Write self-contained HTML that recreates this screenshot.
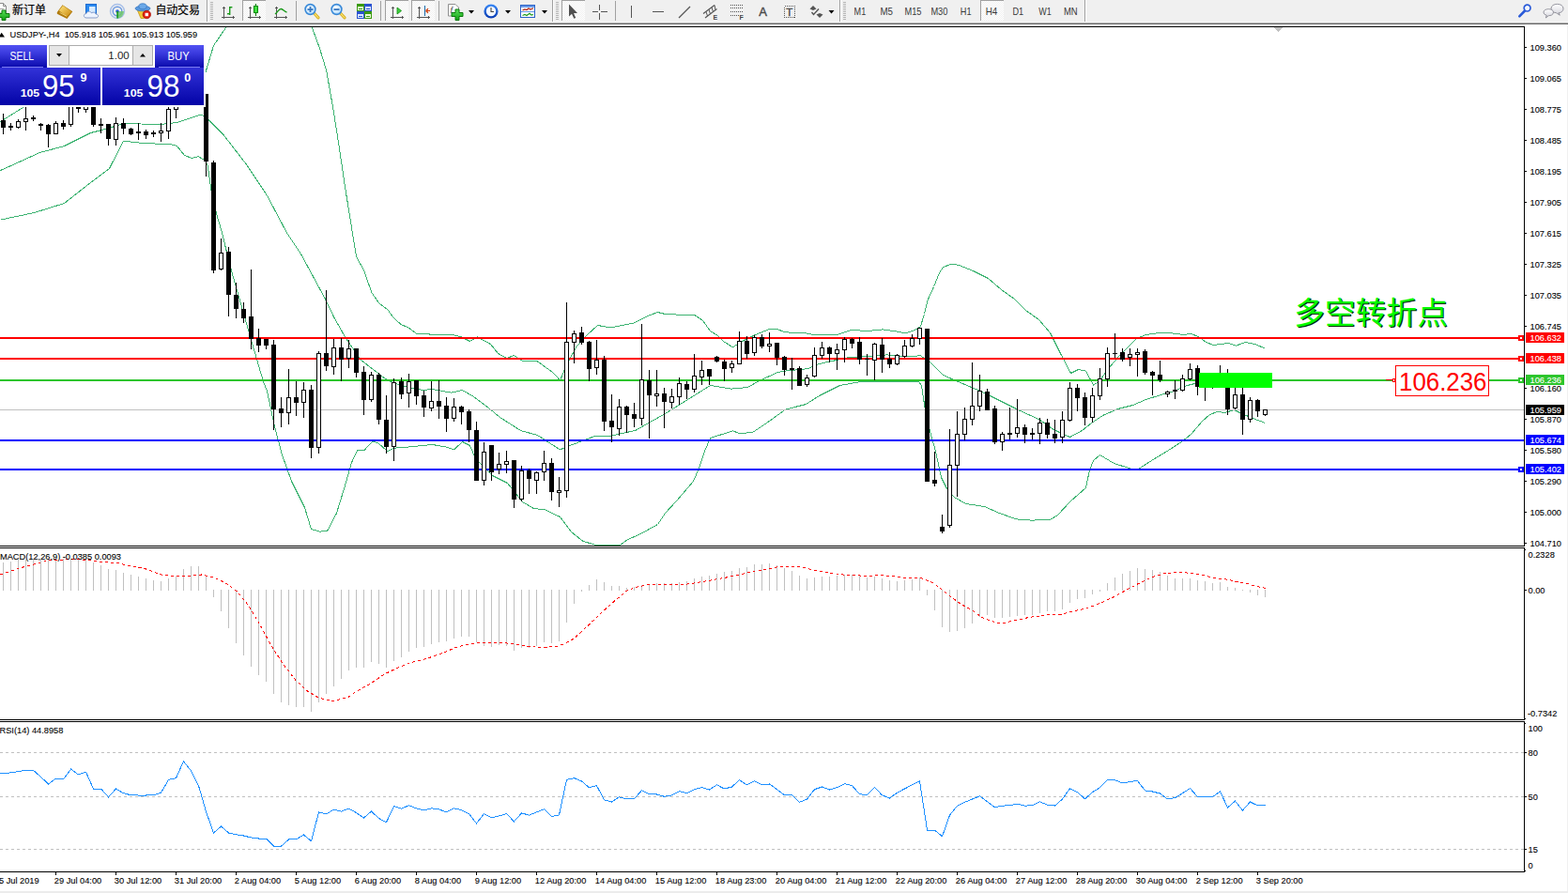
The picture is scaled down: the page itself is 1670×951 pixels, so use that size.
<!DOCTYPE html>
<html><head><meta charset="utf-8"><title>USDJPY H4</title>
<style>
html,body{margin:0;padding:0;background:#fff;}
body{width:1670px;height:951px;position:relative;overflow:hidden;font-family:"Liberation Sans",sans-serif;}
svg{position:absolute;left:0;top:0;}
text{font-family:"Liberation Sans",sans-serif;}
.t{font-size:9.65px;fill:#000;stroke:#000;stroke-width:0.1px;}
.tw{font-size:9.65px;fill:#fff;stroke:#fff;stroke-width:0.1px;}
.tf{font-size:10.2px;fill:#3a3a3a;}
</style></head><body>
<svg width="1670" height="951" viewBox="0 0 1670 951">
<defs>
<linearGradient id="gb" x1="0" y1="0" x2="0" y2="1"><stop offset="0" stop-color="#5252f2"/><stop offset="0.35" stop-color="#3a3ade"/><stop offset="1" stop-color="#0606a8"/></linearGradient>
<linearGradient id="gb2" x1="0" y1="0" x2="0" y2="1"><stop offset="0" stop-color="#3232d8"/><stop offset="1" stop-color="#0303a6"/></linearGradient>
<pattern id="sel" width="2" height="2" patternUnits="userSpaceOnUse"><rect width="2" height="2" fill="#f0f0f0"/><rect width="1" height="1" fill="#fff"/><rect x="1" y="1" width="1" height="1" fill="#fff"/></pattern>
</defs>

<g shape-rendering="crispEdges">
<rect x="0" y="0" width="1670" height="951" fill="#fff"/>
<rect x="0" y="0" width="1670" height="23" fill="#f0f0f0"/>
<rect x="0" y="23" width="1670" height="1" fill="#f6f6f6"/>
<rect x="0" y="24" width="1670" height="1" fill="#b0b0b0"/>
<rect x="0" y="25" width="1670" height="1" fill="#696969"/>
<rect x="1669" y="26" width="1" height="925" fill="#f0f0f0"/>
<rect x="0" y="949" width="1670" height="2" fill="#ececec"/>
<rect x="0" y="28" width="1624" height="1" fill="#000"/>
<rect x="0" y="581" width="1624" height="1" fill="#000"/>
<rect x="0" y="583" width="1624" height="1" fill="#000"/>
<rect x="0" y="766" width="1624" height="1" fill="#000"/>
<rect x="0" y="768" width="1624" height="1" fill="#000"/>
<rect x="0" y="928" width="1624" height="1" fill="#000"/>
<rect x="1623" y="28" width="1" height="554" fill="#000"/>
<rect x="1623" y="583" width="1" height="184" fill="#000"/>
<rect x="1623" y="768" width="1" height="161" fill="#000"/>
</g>
<clipPath id="cm"><rect x="0" y="29" width="1623" height="552"/></clipPath>
<g clip-path="url(#cm)" shape-rendering="crispEdges">
<polyline points="0.5,129.5 24.5,114.5 40.5,100.5" fill="none" stroke="#3cb371" stroke-width="1"/>
<polyline points="218.5,78.5 227.5,48.5 240.5,29.5" fill="none" stroke="#3cb371" stroke-width="1"/>
<polyline points="332.5,29.5 340.5,51.5 347.5,74.5 350.9,93.5 354.5,114.1 359,141.9 363.5,172 367.7,200.5 371.5,223.5 375.2,247 379.7,273.8 387.7,288.2 395.8,311.5 403.8,323 412.7,329.5 419,338.2 427.1,345.5 435.1,349 444.1,355.8 455.5,355.8 466.5,356.9 480.5,356.1 490.5,358.5 500.5,363.5 508.5,358.9 522.5,366.5 530.5,376.5 539.5,381.5 547.5,378.5 556.5,384.5 572.5,384.9 588.5,396.5 596.5,404.9 604.5,386.5 614.5,368.5 624.5,357.5 636.5,346.5 650.5,348.9 674.5,344.1 688.5,337.1 700.5,332.5 708.5,334.5 740.5,335.9 748.5,341.5 756.5,352.5 764.5,357.5 770.5,363.5 780.5,369.9 788.5,364.5 804.5,356.5 818.5,350.9 828.5,350.9 836.5,353.9 856.5,354.5 866.5,356.5 892.5,356.1 906.5,351.5 924.5,352.5 940.5,350.9 954.5,352.9 964.5,354.9 974.5,351.5 980.5,347.5 984.5,334.5 988.5,318.5 994.5,305.5 1000.5,290.5 1004.5,284.5 1012.5,281.5 1020.5,282.1 1036.5,288.5 1052.5,296.5 1066.5,308.5 1080.5,318.5 1092.5,330.5 1106.5,340.5 1118.5,354.5 1128.5,374.5 1140.5,397.5 1148.5,393.5 1156.5,395.1 1164.5,410.1 1170.5,406.5 1180.5,392.5 1192.5,378.5 1210.5,360.5 1220.5,356.5 1234.5,354.5 1248.5,354.9 1260.5,356.5 1268.5,355.5 1276.5,358.5 1284.5,364.5 1292.5,367.5 1308.5,365.5 1316.5,368.1 1326.5,364.5 1336.5,366.5 1347.5,371.1" fill="none" stroke="#3cb371" stroke-width="1"/>
<polyline points="0.5,181.5 42.5,162.5 68.5,155.5 96.5,141.5 108.5,138.5 132.5,131.5 150.5,132 170.5,132.5 188.5,130.5 212.5,122.5 218.5,123.5 222.5,128 238.5,144.2 250.2,159.3 261.8,174.3 273.5,191.7 284.9,209 296.5,231 305.8,248.5 320.5,270.5 346.5,318.5 355.5,337.5 368,359.7 384.5,383.5 410.5,403.5 418.5,407.5 434.5,412.5 450.5,415.5 460.5,414.5 480.5,418.1 492.5,415.5 504.5,422.5 520.5,434.5 532.5,444.5 554.5,458.5 572.5,463.5 596.5,478.9 604.5,475.5 634.5,464.1 650.5,464.1 676.5,458.5 708.5,440.5 732.5,425.5 756.5,410.5 778.5,414.1 796.5,412.5 808.5,405.5 828.5,396.5 840.5,394.5 854.5,393.5 860.5,392.5 872.5,387.5 904.5,380.5 924.5,379.5 944.5,377.9 960.5,379.5 980.5,378.9 986.5,382.5 992.5,387.5 1004.5,399.5 1020.5,406.5 1040.5,414.9 1056.5,422.5 1072.5,430.5 1086.5,437.5 1106.5,446.5 1120.5,456.5 1130.5,461.5 1139.5,465.5 1152.5,458.5 1162.5,450.5 1174.5,442.5 1190.5,435.5 1206.5,431.5 1220.5,425.5 1236.5,420.5 1250.5,416.5 1264.5,410.5 1276.5,407.5 1300.5,405.5 1347.5,408.5" fill="none" stroke="#3cb371" stroke-width="1"/>
<polyline points="0.5,234.1 36.5,226.5 68.5,216.5 96.5,194.5 116.5,179.5 131.5,150.1 148.5,152.1 184.5,154.1 188.5,155.5 196.5,165.5 204.5,168.5 211.5,166.5 215.5,169.5 218.5,170.8 221.3,176.5 224.8,202.1 230.5,227.5 236.3,247.2 240.5,264.5 246.5,288.5 266.5,358.5 280.5,406.5 284.5,416.5 292.5,454.5 300.5,484.5 310.5,512.5 324.5,540.5 331.5,563.5 340.5,566.1 348.5,565.5 358.5,546.5 366.5,520.5 374.5,492.5 380.5,479.9 387.5,479.9 396.5,470.5 402.5,471.5 412.5,480.5 420.5,477.1 436.5,475.9 460.5,473.5 474.5,475.9 483.5,478.9 492.5,470.5 500.5,474.5 506.5,488.5 512.5,494.5 524.5,506.5 540.5,514.5 556.5,534.5 568.5,541.5 580.5,542.9 596.5,550.5 608.5,566.5 620.5,576.1 634.5,580.5 660.5,580.5 668.5,574.5 680.5,569.5 700.5,558.5 708.5,546.5 720.5,533.5 738.5,512.5 744.5,498.5 750.5,480.5 756.5,466.5 780.5,458.9 788.5,461.9 802.5,459.9 816.5,450.5 836.5,436.1 854.5,431.5 858.5,430.5 872.5,421.5 894.5,410.5 916.5,406.5 960.5,406.1 978.5,406.5 981.5,410.5 985.5,437.5 990.5,459.5 996.5,480.5 1002.5,508.5 1008.5,520.5 1016.5,529.5 1028.5,536.5 1048.5,539.5 1064.5,546.5 1082.5,552.9 1098.5,554.1 1118.5,553.5 1126.5,548.5 1140.5,533.5 1156.5,519.5 1160.5,500.5 1164.5,490.5 1171.5,484.5 1186.5,493.5 1204.5,499.1 1212.5,499.5 1226.5,490.5 1244.5,479.5 1258.5,470.5 1268.5,462.5 1280.5,448.5 1288.5,441.5 1296.5,438.5 1304.5,439.5 1314.5,436.5 1322.5,440.5 1334.5,445.5 1347.5,450.5" fill="none" stroke="#3cb371" stroke-width="1"/>
<rect x="0" y="359" width="1623" height="2" fill="#ff0000"/>
<rect x="0" y="381" width="1623" height="2" fill="#ff0000"/>
<rect x="0" y="404" width="1623" height="2" fill="#2dc52d"/>
<rect x="0" y="468" width="1623" height="2" fill="#0000ff"/>
<rect x="0" y="499" width="1623" height="2" fill="#0000ff"/>
<rect x="0" y="436" width="1623" height="1" fill="#c0c0c0"/>
<rect x="3" y="121" width="1" height="22" fill="#000"/>
<rect x="1" y="128" width="5" height="8" fill="#000"/>
<rect x="11" y="131" width="1" height="8" fill="#000"/>
<rect x="9" y="134" width="5" height="2" fill="#000"/>
<rect x="19" y="127" width="1" height="10" fill="#000"/>
<rect x="17" y="129" width="5" height="7" fill="#000"/>
<rect x="18" y="130" width="3" height="5" fill="#fff"/>
<rect x="27" y="100" width="1" height="39" fill="#000"/>
<rect x="25" y="126" width="5" height="4" fill="#000"/>
<rect x="26" y="127" width="3" height="2" fill="#fff"/>
<rect x="35" y="123" width="1" height="6" fill="#000"/>
<rect x="33" y="125" width="5" height="2" fill="#000"/>
<rect x="43" y="131" width="1" height="8" fill="#000"/>
<rect x="41" y="132" width="5" height="2" fill="#000"/>
<rect x="51" y="132" width="1" height="25" fill="#000"/>
<rect x="49" y="133" width="5" height="10" fill="#000"/>
<rect x="59" y="129" width="1" height="14" fill="#000"/>
<rect x="57" y="131" width="5" height="12" fill="#000"/>
<rect x="58" y="132" width="3" height="10" fill="#fff"/>
<rect x="67" y="128" width="1" height="10" fill="#000"/>
<rect x="65" y="131" width="5" height="4" fill="#000"/>
<rect x="75" y="100" width="1" height="35" fill="#000"/>
<rect x="73" y="100" width="5" height="33" fill="#000"/>
<rect x="74" y="101" width="3" height="31" fill="#fff"/>
<rect x="83" y="100" width="1" height="20" fill="#000"/>
<rect x="81" y="100" width="5" height="16" fill="#000"/>
<rect x="91" y="100" width="1" height="20" fill="#000"/>
<rect x="89" y="100" width="5" height="17" fill="#000"/>
<rect x="90" y="101" width="3" height="15" fill="#fff"/>
<rect x="99" y="100" width="1" height="35" fill="#000"/>
<rect x="97" y="100" width="5" height="33" fill="#000"/>
<rect x="107" y="126" width="1" height="16" fill="#000"/>
<rect x="105" y="132" width="5" height="2" fill="#000"/>
<rect x="115" y="132" width="1" height="23" fill="#000"/>
<rect x="113" y="132" width="5" height="16" fill="#000"/>
<rect x="123" y="125" width="1" height="30" fill="#000"/>
<rect x="121" y="131" width="5" height="18" fill="#000"/>
<rect x="122" y="132" width="3" height="16" fill="#fff"/>
<rect x="131" y="126" width="1" height="17" fill="#000"/>
<rect x="129" y="131" width="5" height="6" fill="#000"/>
<rect x="139" y="136" width="1" height="8" fill="#000"/>
<rect x="137" y="137" width="5" height="6" fill="#000"/>
<rect x="147" y="131" width="1" height="18" fill="#000"/>
<rect x="145" y="140" width="5" height="2" fill="#000"/>
<rect x="155" y="138" width="1" height="10" fill="#000"/>
<rect x="153" y="140" width="5" height="4" fill="#000"/>
<rect x="163" y="139" width="1" height="7" fill="#000"/>
<rect x="161" y="141" width="5" height="2" fill="#000"/>
<rect x="171" y="131" width="1" height="20" fill="#000"/>
<rect x="169" y="139" width="5" height="3" fill="#000"/>
<rect x="170" y="140" width="3" height="1" fill="#fff"/>
<rect x="179" y="100" width="1" height="48" fill="#000"/>
<rect x="177" y="116" width="5" height="24" fill="#000"/>
<rect x="178" y="117" width="3" height="22" fill="#fff"/>
<rect x="187" y="100" width="1" height="26" fill="#000"/>
<rect x="185" y="100" width="5" height="17" fill="#000"/>
<rect x="186" y="101" width="3" height="15" fill="#fff"/>
<rect x="219" y="100" width="1" height="88" fill="#000"/>
<rect x="217" y="100" width="5" height="72" fill="#000"/>
<rect x="227" y="171" width="1" height="120" fill="#000"/>
<rect x="225" y="173" width="5" height="115" fill="#000"/>
<rect x="235" y="254" width="1" height="34" fill="#000"/>
<rect x="233" y="269" width="5" height="18" fill="#000"/>
<rect x="234" y="270" width="3" height="16" fill="#fff"/>
<rect x="243" y="263" width="1" height="74" fill="#000"/>
<rect x="241" y="268" width="5" height="46" fill="#000"/>
<rect x="251" y="301" width="1" height="38" fill="#000"/>
<rect x="249" y="314" width="5" height="15" fill="#000"/>
<rect x="259" y="322" width="1" height="22" fill="#000"/>
<rect x="257" y="329" width="5" height="10" fill="#000"/>
<rect x="267" y="287" width="1" height="85" fill="#000"/>
<rect x="265" y="337" width="5" height="24" fill="#000"/>
<rect x="275" y="350" width="1" height="25" fill="#000"/>
<rect x="273" y="360" width="5" height="8" fill="#000"/>
<rect x="283" y="361" width="1" height="11" fill="#000"/>
<rect x="281" y="361" width="5" height="7" fill="#000"/>
<rect x="291" y="362" width="1" height="96" fill="#000"/>
<rect x="289" y="367" width="5" height="69" fill="#000"/>
<rect x="299" y="423" width="1" height="32" fill="#000"/>
<rect x="297" y="435" width="5" height="5" fill="#000"/>
<rect x="307" y="393" width="1" height="59" fill="#000"/>
<rect x="305" y="423" width="5" height="17" fill="#000"/>
<rect x="306" y="424" width="3" height="15" fill="#fff"/>
<rect x="315" y="406" width="1" height="37" fill="#000"/>
<rect x="313" y="423" width="5" height="6" fill="#000"/>
<rect x="323" y="407" width="1" height="38" fill="#000"/>
<rect x="321" y="415" width="5" height="14" fill="#000"/>
<rect x="322" y="416" width="3" height="12" fill="#fff"/>
<rect x="331" y="410" width="1" height="78" fill="#000"/>
<rect x="329" y="415" width="5" height="62" fill="#000"/>
<rect x="339" y="374" width="1" height="109" fill="#000"/>
<rect x="337" y="376" width="5" height="101" fill="#000"/>
<rect x="338" y="377" width="3" height="99" fill="#fff"/>
<rect x="347" y="309" width="1" height="86" fill="#000"/>
<rect x="345" y="376" width="5" height="14" fill="#000"/>
<rect x="355" y="361" width="1" height="38" fill="#000"/>
<rect x="353" y="370" width="5" height="21" fill="#000"/>
<rect x="354" y="371" width="3" height="19" fill="#fff"/>
<rect x="363" y="360" width="1" height="46" fill="#000"/>
<rect x="361" y="370" width="5" height="13" fill="#000"/>
<rect x="371" y="362" width="1" height="30" fill="#000"/>
<rect x="369" y="371" width="5" height="11" fill="#000"/>
<rect x="370" y="372" width="3" height="9" fill="#fff"/>
<rect x="379" y="371" width="1" height="31" fill="#000"/>
<rect x="377" y="371" width="5" height="26" fill="#000"/>
<rect x="387" y="390" width="1" height="52" fill="#000"/>
<rect x="385" y="396" width="5" height="30" fill="#000"/>
<rect x="395" y="396" width="1" height="32" fill="#000"/>
<rect x="393" y="399" width="5" height="27" fill="#000"/>
<rect x="394" y="400" width="3" height="25" fill="#fff"/>
<rect x="403" y="397" width="1" height="55" fill="#000"/>
<rect x="401" y="399" width="5" height="48" fill="#000"/>
<rect x="411" y="421" width="1" height="62" fill="#000"/>
<rect x="409" y="447" width="5" height="29" fill="#000"/>
<rect x="419" y="403" width="1" height="88" fill="#000"/>
<rect x="417" y="407" width="5" height="69" fill="#000"/>
<rect x="418" y="408" width="3" height="67" fill="#fff"/>
<rect x="427" y="402" width="1" height="23" fill="#000"/>
<rect x="425" y="406" width="5" height="14" fill="#000"/>
<rect x="435" y="398" width="1" height="36" fill="#000"/>
<rect x="433" y="406" width="5" height="13" fill="#000"/>
<rect x="434" y="407" width="3" height="11" fill="#fff"/>
<rect x="443" y="405" width="1" height="26" fill="#000"/>
<rect x="441" y="405" width="5" height="17" fill="#000"/>
<rect x="451" y="416" width="1" height="28" fill="#000"/>
<rect x="449" y="421" width="5" height="13" fill="#000"/>
<rect x="459" y="406" width="1" height="32" fill="#000"/>
<rect x="457" y="427" width="5" height="8" fill="#000"/>
<rect x="458" y="428" width="3" height="6" fill="#fff"/>
<rect x="467" y="405" width="1" height="41" fill="#000"/>
<rect x="465" y="427" width="5" height="6" fill="#000"/>
<rect x="475" y="423" width="1" height="37" fill="#000"/>
<rect x="473" y="432" width="5" height="14" fill="#000"/>
<rect x="483" y="424" width="1" height="25" fill="#000"/>
<rect x="481" y="433" width="5" height="13" fill="#000"/>
<rect x="482" y="434" width="3" height="11" fill="#fff"/>
<rect x="491" y="432" width="1" height="20" fill="#000"/>
<rect x="489" y="433" width="5" height="6" fill="#000"/>
<rect x="499" y="436" width="1" height="35" fill="#000"/>
<rect x="497" y="438" width="5" height="20" fill="#000"/>
<rect x="507" y="449" width="1" height="63" fill="#000"/>
<rect x="505" y="458" width="5" height="54" fill="#000"/>
<rect x="515" y="471" width="1" height="46" fill="#000"/>
<rect x="513" y="481" width="5" height="31" fill="#000"/>
<rect x="514" y="482" width="3" height="29" fill="#fff"/>
<rect x="523" y="474" width="1" height="38" fill="#000"/>
<rect x="521" y="474" width="5" height="29" fill="#000"/>
<rect x="531" y="482" width="1" height="23" fill="#000"/>
<rect x="529" y="494" width="5" height="6" fill="#000"/>
<rect x="530" y="495" width="3" height="4" fill="#fff"/>
<rect x="539" y="480" width="1" height="24" fill="#000"/>
<rect x="537" y="491" width="5" height="4" fill="#000"/>
<rect x="538" y="492" width="3" height="2" fill="#fff"/>
<rect x="547" y="490" width="1" height="51" fill="#000"/>
<rect x="545" y="490" width="5" height="42" fill="#000"/>
<rect x="555" y="496" width="1" height="38" fill="#000"/>
<rect x="553" y="501" width="5" height="31" fill="#000"/>
<rect x="554" y="502" width="3" height="29" fill="#fff"/>
<rect x="563" y="499" width="1" height="27" fill="#000"/>
<rect x="561" y="501" width="5" height="9" fill="#000"/>
<rect x="571" y="502" width="1" height="24" fill="#000"/>
<rect x="569" y="503" width="5" height="9" fill="#000"/>
<rect x="570" y="504" width="3" height="7" fill="#fff"/>
<rect x="579" y="480" width="1" height="32" fill="#000"/>
<rect x="577" y="493" width="5" height="10" fill="#000"/>
<rect x="578" y="494" width="3" height="8" fill="#fff"/>
<rect x="587" y="488" width="1" height="45" fill="#000"/>
<rect x="585" y="493" width="5" height="31" fill="#000"/>
<rect x="595" y="508" width="1" height="32" fill="#000"/>
<rect x="593" y="522" width="5" height="3" fill="#000"/>
<rect x="594" y="523" width="3" height="1" fill="#fff"/>
<rect x="603" y="322" width="1" height="208" fill="#000"/>
<rect x="601" y="364" width="5" height="159" fill="#000"/>
<rect x="602" y="365" width="3" height="157" fill="#fff"/>
<rect x="611" y="352" width="1" height="35" fill="#000"/>
<rect x="609" y="355" width="5" height="10" fill="#000"/>
<rect x="610" y="356" width="3" height="8" fill="#fff"/>
<rect x="619" y="348" width="1" height="19" fill="#000"/>
<rect x="617" y="354" width="5" height="11" fill="#000"/>
<rect x="627" y="363" width="1" height="43" fill="#000"/>
<rect x="625" y="364" width="5" height="29" fill="#000"/>
<rect x="635" y="362" width="1" height="37" fill="#000"/>
<rect x="633" y="383" width="5" height="9" fill="#000"/>
<rect x="634" y="384" width="3" height="7" fill="#fff"/>
<rect x="643" y="379" width="1" height="80" fill="#000"/>
<rect x="641" y="383" width="5" height="66" fill="#000"/>
<rect x="651" y="420" width="1" height="51" fill="#000"/>
<rect x="649" y="448" width="5" height="7" fill="#000"/>
<rect x="659" y="425" width="1" height="39" fill="#000"/>
<rect x="657" y="433" width="5" height="24" fill="#000"/>
<rect x="658" y="434" width="3" height="22" fill="#fff"/>
<rect x="667" y="432" width="1" height="29" fill="#000"/>
<rect x="665" y="433" width="5" height="9" fill="#000"/>
<rect x="675" y="429" width="1" height="26" fill="#000"/>
<rect x="673" y="441" width="5" height="5" fill="#000"/>
<rect x="683" y="345" width="1" height="108" fill="#000"/>
<rect x="681" y="404" width="5" height="42" fill="#000"/>
<rect x="682" y="405" width="3" height="40" fill="#fff"/>
<rect x="691" y="394" width="1" height="73" fill="#000"/>
<rect x="689" y="405" width="5" height="16" fill="#000"/>
<rect x="699" y="394" width="1" height="39" fill="#000"/>
<rect x="697" y="419" width="5" height="3" fill="#000"/>
<rect x="698" y="420" width="3" height="1" fill="#fff"/>
<rect x="707" y="413" width="1" height="43" fill="#000"/>
<rect x="705" y="419" width="5" height="9" fill="#000"/>
<rect x="715" y="414" width="1" height="21" fill="#000"/>
<rect x="713" y="422" width="5" height="7" fill="#000"/>
<rect x="714" y="423" width="3" height="5" fill="#fff"/>
<rect x="723" y="402" width="1" height="29" fill="#000"/>
<rect x="721" y="408" width="5" height="15" fill="#000"/>
<rect x="722" y="409" width="3" height="13" fill="#fff"/>
<rect x="731" y="406" width="1" height="19" fill="#000"/>
<rect x="729" y="409" width="5" height="6" fill="#000"/>
<rect x="739" y="377" width="1" height="41" fill="#000"/>
<rect x="737" y="400" width="5" height="15" fill="#000"/>
<rect x="738" y="401" width="3" height="13" fill="#fff"/>
<rect x="747" y="384" width="1" height="26" fill="#000"/>
<rect x="745" y="394" width="5" height="8" fill="#000"/>
<rect x="746" y="395" width="3" height="6" fill="#fff"/>
<rect x="755" y="393" width="1" height="17" fill="#000"/>
<rect x="753" y="393" width="5" height="8" fill="#000"/>
<rect x="763" y="379" width="1" height="7" fill="#000"/>
<rect x="761" y="380" width="5" height="5" fill="#000"/>
<rect x="771" y="383" width="1" height="23" fill="#000"/>
<rect x="769" y="385" width="5" height="8" fill="#000"/>
<rect x="779" y="384" width="1" height="13" fill="#000"/>
<rect x="777" y="387" width="5" height="5" fill="#000"/>
<rect x="778" y="388" width="3" height="3" fill="#fff"/>
<rect x="787" y="353" width="1" height="35" fill="#000"/>
<rect x="785" y="363" width="5" height="25" fill="#000"/>
<rect x="786" y="364" width="3" height="23" fill="#fff"/>
<rect x="795" y="358" width="1" height="24" fill="#000"/>
<rect x="793" y="363" width="5" height="14" fill="#000"/>
<rect x="803" y="357" width="1" height="22" fill="#000"/>
<rect x="801" y="359" width="5" height="17" fill="#000"/>
<rect x="802" y="360" width="3" height="15" fill="#fff"/>
<rect x="811" y="356" width="1" height="15" fill="#000"/>
<rect x="809" y="359" width="5" height="10" fill="#000"/>
<rect x="819" y="354" width="1" height="21" fill="#000"/>
<rect x="817" y="366" width="5" height="3" fill="#000"/>
<rect x="818" y="367" width="3" height="1" fill="#fff"/>
<rect x="827" y="365" width="1" height="24" fill="#000"/>
<rect x="825" y="365" width="5" height="16" fill="#000"/>
<rect x="835" y="379" width="1" height="21" fill="#000"/>
<rect x="833" y="380" width="5" height="14" fill="#000"/>
<rect x="843" y="381" width="1" height="34" fill="#000"/>
<rect x="841" y="392" width="5" height="2" fill="#000"/>
<rect x="851" y="390" width="1" height="21" fill="#000"/>
<rect x="849" y="392" width="5" height="19" fill="#000"/>
<rect x="859" y="399" width="1" height="13" fill="#000"/>
<rect x="857" y="402" width="5" height="8" fill="#000"/>
<rect x="858" y="403" width="3" height="6" fill="#fff"/>
<rect x="867" y="370" width="1" height="32" fill="#000"/>
<rect x="865" y="378" width="5" height="23" fill="#000"/>
<rect x="866" y="379" width="3" height="21" fill="#fff"/>
<rect x="875" y="364" width="1" height="18" fill="#000"/>
<rect x="873" y="370" width="5" height="9" fill="#000"/>
<rect x="874" y="371" width="3" height="7" fill="#fff"/>
<rect x="883" y="369" width="1" height="17" fill="#000"/>
<rect x="881" y="370" width="5" height="7" fill="#000"/>
<rect x="891" y="366" width="1" height="28" fill="#000"/>
<rect x="889" y="372" width="5" height="5" fill="#000"/>
<rect x="890" y="373" width="3" height="3" fill="#fff"/>
<rect x="899" y="359" width="1" height="27" fill="#000"/>
<rect x="897" y="361" width="5" height="12" fill="#000"/>
<rect x="898" y="362" width="3" height="10" fill="#fff"/>
<rect x="907" y="360" width="1" height="11" fill="#000"/>
<rect x="905" y="361" width="5" height="5" fill="#000"/>
<rect x="915" y="359" width="1" height="29" fill="#000"/>
<rect x="913" y="364" width="5" height="19" fill="#000"/>
<rect x="923" y="377" width="1" height="23" fill="#000"/>
<rect x="921" y="382" width="5" height="1" fill="#000"/>
<rect x="931" y="365" width="1" height="40" fill="#000"/>
<rect x="929" y="366" width="5" height="18" fill="#000"/>
<rect x="930" y="367" width="3" height="16" fill="#fff"/>
<rect x="939" y="360" width="1" height="37" fill="#000"/>
<rect x="937" y="367" width="5" height="16" fill="#000"/>
<rect x="947" y="375" width="1" height="17" fill="#000"/>
<rect x="945" y="382" width="5" height="6" fill="#000"/>
<rect x="955" y="377" width="1" height="12" fill="#000"/>
<rect x="953" y="378" width="5" height="10" fill="#000"/>
<rect x="954" y="379" width="3" height="8" fill="#fff"/>
<rect x="963" y="362" width="1" height="19" fill="#000"/>
<rect x="961" y="368" width="5" height="12" fill="#000"/>
<rect x="962" y="369" width="3" height="10" fill="#fff"/>
<rect x="971" y="356" width="1" height="14" fill="#000"/>
<rect x="969" y="360" width="5" height="9" fill="#000"/>
<rect x="970" y="361" width="3" height="7" fill="#fff"/>
<rect x="979" y="349" width="1" height="18" fill="#000"/>
<rect x="977" y="349" width="5" height="12" fill="#000"/>
<rect x="978" y="350" width="3" height="10" fill="#fff"/>
<rect x="987" y="350" width="1" height="163" fill="#000"/>
<rect x="985" y="350" width="5" height="163" fill="#000"/>
<rect x="995" y="481" width="1" height="37" fill="#000"/>
<rect x="993" y="511" width="5" height="4" fill="#000"/>
<rect x="1003" y="548" width="1" height="20" fill="#000"/>
<rect x="1001" y="561" width="5" height="5" fill="#000"/>
<rect x="1011" y="457" width="1" height="105" fill="#000"/>
<rect x="1009" y="495" width="5" height="65" fill="#000"/>
<rect x="1010" y="496" width="3" height="63" fill="#fff"/>
<rect x="1019" y="438" width="1" height="91" fill="#000"/>
<rect x="1017" y="462" width="5" height="34" fill="#000"/>
<rect x="1018" y="463" width="3" height="32" fill="#fff"/>
<rect x="1027" y="434" width="1" height="35" fill="#000"/>
<rect x="1025" y="446" width="5" height="17" fill="#000"/>
<rect x="1026" y="447" width="3" height="15" fill="#fff"/>
<rect x="1035" y="386" width="1" height="67" fill="#000"/>
<rect x="1033" y="432" width="5" height="15" fill="#000"/>
<rect x="1034" y="433" width="3" height="13" fill="#fff"/>
<rect x="1043" y="399" width="1" height="39" fill="#000"/>
<rect x="1041" y="416" width="5" height="17" fill="#000"/>
<rect x="1042" y="417" width="3" height="15" fill="#fff"/>
<rect x="1051" y="414" width="1" height="23" fill="#000"/>
<rect x="1049" y="417" width="5" height="20" fill="#000"/>
<rect x="1059" y="432" width="1" height="41" fill="#000"/>
<rect x="1057" y="435" width="5" height="36" fill="#000"/>
<rect x="1067" y="460" width="1" height="20" fill="#000"/>
<rect x="1065" y="462" width="5" height="9" fill="#000"/>
<rect x="1066" y="463" width="3" height="7" fill="#fff"/>
<rect x="1075" y="434" width="1" height="34" fill="#000"/>
<rect x="1073" y="461" width="5" height="2" fill="#000"/>
<rect x="1083" y="425" width="1" height="41" fill="#000"/>
<rect x="1081" y="455" width="5" height="7" fill="#000"/>
<rect x="1082" y="456" width="3" height="5" fill="#fff"/>
<rect x="1091" y="452" width="1" height="20" fill="#000"/>
<rect x="1089" y="455" width="5" height="8" fill="#000"/>
<rect x="1099" y="456" width="1" height="12" fill="#000"/>
<rect x="1097" y="461" width="5" height="2" fill="#000"/>
<rect x="1107" y="445" width="1" height="28" fill="#000"/>
<rect x="1105" y="450" width="5" height="12" fill="#000"/>
<rect x="1106" y="451" width="3" height="10" fill="#fff"/>
<rect x="1115" y="446" width="1" height="21" fill="#000"/>
<rect x="1113" y="450" width="5" height="13" fill="#000"/>
<rect x="1123" y="447" width="1" height="25" fill="#000"/>
<rect x="1121" y="462" width="5" height="5" fill="#000"/>
<rect x="1131" y="438" width="1" height="34" fill="#000"/>
<rect x="1129" y="447" width="5" height="19" fill="#000"/>
<rect x="1130" y="448" width="3" height="17" fill="#fff"/>
<rect x="1139" y="407" width="1" height="42" fill="#000"/>
<rect x="1137" y="413" width="5" height="35" fill="#000"/>
<rect x="1138" y="414" width="3" height="33" fill="#fff"/>
<rect x="1147" y="409" width="1" height="29" fill="#000"/>
<rect x="1145" y="413" width="5" height="11" fill="#000"/>
<rect x="1155" y="418" width="1" height="35" fill="#000"/>
<rect x="1153" y="423" width="5" height="22" fill="#000"/>
<rect x="1163" y="413" width="1" height="37" fill="#000"/>
<rect x="1161" y="421" width="5" height="24" fill="#000"/>
<rect x="1162" y="422" width="3" height="22" fill="#fff"/>
<rect x="1171" y="392" width="1" height="34" fill="#000"/>
<rect x="1169" y="403" width="5" height="19" fill="#000"/>
<rect x="1170" y="404" width="3" height="17" fill="#fff"/>
<rect x="1179" y="370" width="1" height="42" fill="#000"/>
<rect x="1177" y="376" width="5" height="28" fill="#000"/>
<rect x="1178" y="377" width="3" height="26" fill="#fff"/>
<rect x="1187" y="355" width="1" height="26" fill="#000"/>
<rect x="1185" y="376" width="5" height="1" fill="#000"/>
<rect x="1195" y="371" width="1" height="14" fill="#000"/>
<rect x="1193" y="375" width="5" height="8" fill="#000"/>
<rect x="1203" y="371" width="1" height="19" fill="#000"/>
<rect x="1201" y="377" width="5" height="4" fill="#000"/>
<rect x="1202" y="378" width="3" height="2" fill="#fff"/>
<rect x="1211" y="371" width="1" height="30" fill="#000"/>
<rect x="1209" y="375" width="5" height="3" fill="#000"/>
<rect x="1210" y="376" width="3" height="1" fill="#fff"/>
<rect x="1219" y="372" width="1" height="27" fill="#000"/>
<rect x="1217" y="374" width="5" height="23" fill="#000"/>
<rect x="1227" y="395" width="1" height="26" fill="#000"/>
<rect x="1225" y="396" width="5" height="4" fill="#000"/>
<rect x="1235" y="384" width="1" height="23" fill="#000"/>
<rect x="1233" y="399" width="5" height="6" fill="#000"/>
<rect x="1243" y="416" width="1" height="7" fill="#000"/>
<rect x="1241" y="417" width="5" height="3" fill="#000"/>
<rect x="1242" y="418" width="3" height="1" fill="#fff"/>
<rect x="1251" y="405" width="1" height="20" fill="#000"/>
<rect x="1249" y="415" width="5" height="2" fill="#000"/>
<rect x="1259" y="399" width="1" height="18" fill="#000"/>
<rect x="1257" y="403" width="5" height="13" fill="#000"/>
<rect x="1258" y="404" width="3" height="11" fill="#fff"/>
<rect x="1267" y="387" width="1" height="18" fill="#000"/>
<rect x="1265" y="393" width="5" height="11" fill="#000"/>
<rect x="1266" y="394" width="3" height="9" fill="#fff"/>
<rect x="1275" y="389" width="1" height="32" fill="#000"/>
<rect x="1273" y="392" width="5" height="20" fill="#000"/>
<rect x="1283" y="398" width="1" height="29" fill="#000"/>
<rect x="1281" y="400" width="5" height="11" fill="#000"/>
<rect x="1291" y="398" width="1" height="16" fill="#000"/>
<rect x="1289" y="400" width="5" height="11" fill="#000"/>
<rect x="1299" y="389" width="1" height="23" fill="#000"/>
<rect x="1297" y="400" width="5" height="11" fill="#000"/>
<rect x="1298" y="401" width="3" height="9" fill="#fff"/>
<rect x="1307" y="393" width="1" height="49" fill="#000"/>
<rect x="1305" y="400" width="5" height="36" fill="#000"/>
<rect x="1315" y="400" width="1" height="36" fill="#000"/>
<rect x="1313" y="420" width="5" height="15" fill="#000"/>
<rect x="1314" y="421" width="3" height="13" fill="#fff"/>
<rect x="1323" y="400" width="1" height="63" fill="#000"/>
<rect x="1321" y="420" width="5" height="27" fill="#000"/>
<rect x="1331" y="423" width="1" height="27" fill="#000"/>
<rect x="1329" y="426" width="5" height="21" fill="#000"/>
<rect x="1330" y="427" width="3" height="19" fill="#fff"/>
<rect x="1339" y="425" width="1" height="19" fill="#000"/>
<rect x="1337" y="426" width="5" height="12" fill="#000"/>
<rect x="1347" y="436" width="1" height="7" fill="#000"/>
<rect x="1345" y="436" width="5" height="6" fill="#000"/>
<rect x="1346" y="437" width="3" height="4" fill="#fff"/>
<rect x="1357" y="29" width="9" height="1" fill="#c0c0c0"/>
<rect x="1358" y="30" width="7" height="1" fill="#c0c0c0"/>
<rect x="1359" y="31" width="5" height="1" fill="#c0c0c0"/>
<rect x="1360" y="32" width="3" height="1" fill="#c0c0c0"/>
<rect x="1361" y="33" width="1" height="1" fill="#c0c0c0"/>
<rect x="1277" y="397" width="78" height="16" fill="#00ff00"/>
</g>
<g shape-rendering="crispEdges">
<rect x="1617" y="357" width="6" height="6" fill="#ff0000"/><rect x="1619" y="359" width="2" height="2" fill="#fff"/>
<rect x="1617" y="379" width="6" height="6" fill="#ff0000"/><rect x="1619" y="381" width="2" height="2" fill="#fff"/>
<rect x="1617" y="402" width="6" height="6" fill="#2dc52d"/><rect x="1619" y="404" width="2" height="2" fill="#fff"/>
<rect x="1617" y="497" width="6" height="6" fill="#0000ff"/><rect x="1619" y="499" width="2" height="2" fill="#fff"/>
<rect x="1625" y="354" width="41" height="11" fill="#ff0000"/>
<rect x="1625" y="376" width="41" height="11" fill="#ff0000"/>
<rect x="1625" y="399" width="41" height="11" fill="#2dc52d"/>
<rect x="1625" y="431" width="41" height="11" fill="#000000"/>
<rect x="1625" y="463" width="41" height="11" fill="#0000ff"/>
<rect x="1625" y="494" width="41" height="11" fill="#0000ff"/>
</g>
<text class="tw" transform="translate(1629.5,363.2) scale(0.96,1)">106.632</text>
<text class="tw" transform="translate(1629.5,385.2) scale(0.96,1)">106.438</text>
<text class="tw" transform="translate(1629.5,408.2) scale(0.96,1)">106.236</text>
<text class="tw" transform="translate(1629.5,440.2) scale(0.96,1)">105.959</text>
<text class="tw" transform="translate(1629.5,472.2) scale(0.96,1)">105.674</text>
<text class="tw" transform="translate(1629.5,503.2) scale(0.96,1)">105.402</text>
<g shape-rendering="crispEdges">
<rect x="1624" y="50" width="2" height="1" fill="#000"/>
<rect x="1624" y="83" width="2" height="1" fill="#000"/>
<rect x="1624" y="116" width="2" height="1" fill="#000"/>
<rect x="1624" y="149" width="2" height="1" fill="#000"/>
<rect x="1624" y="182" width="2" height="1" fill="#000"/>
<rect x="1624" y="215" width="2" height="1" fill="#000"/>
<rect x="1624" y="248" width="2" height="1" fill="#000"/>
<rect x="1624" y="281" width="2" height="1" fill="#000"/>
<rect x="1624" y="314" width="2" height="1" fill="#000"/>
<rect x="1624" y="347" width="2" height="1" fill="#000"/>
<rect x="1624" y="413" width="2" height="1" fill="#000"/>
<rect x="1624" y="446" width="2" height="1" fill="#000"/>
<rect x="1624" y="479" width="2" height="1" fill="#000"/>
<rect x="1624" y="512" width="2" height="1" fill="#000"/>
<rect x="1624" y="545" width="2" height="1" fill="#000"/>
<rect x="1624" y="578" width="2" height="1" fill="#000"/>
</g>
<text class="t" transform="translate(1629.5,54.1) scale(0.96,1)">109.360</text>
<text class="t" transform="translate(1629.5,87.2) scale(0.96,1)">109.065</text>
<text class="t" transform="translate(1629.5,120) scale(0.96,1)">108.775</text>
<text class="t" transform="translate(1629.5,152.8) scale(0.96,1)">108.485</text>
<text class="t" transform="translate(1629.5,186) scale(0.96,1)">108.195</text>
<text class="t" transform="translate(1629.5,219.1) scale(0.96,1)">107.905</text>
<text class="t" transform="translate(1629.5,251.9) scale(0.96,1)">107.615</text>
<text class="t" transform="translate(1629.5,285) scale(0.96,1)">107.325</text>
<text class="t" transform="translate(1629.5,317.8) scale(0.96,1)">107.035</text>
<text class="t" transform="translate(1629.5,351) scale(0.96,1)">106.745</text>
<text class="t" transform="translate(1629.5,417.4) scale(0.96,1)">106.160</text>
<text class="t" transform="translate(1629.5,450.2) scale(0.96,1)">105.870</text>
<text class="t" transform="translate(1629.5,483.1) scale(0.96,1)">105.580</text>
<text class="t" transform="translate(1629.5,515.9) scale(0.96,1)">105.290</text>
<text class="t" transform="translate(1629.5,549) scale(0.96,1)">105.000</text>
<text class="t" transform="translate(1629.5,581.9) scale(0.96,1)">104.710</text>
<g shape-rendering="crispEdges">
<rect x="1476" y="404" width="8" height="1" fill="#ff0000"/>
<rect x="1483" y="403" width="3" height="4" fill="#ff0000"/><rect x="1484" y="404" width="1" height="2" fill="#fff"/>
<rect x="1486.5" y="389.5" width="99" height="32" fill="#fff" stroke="#ff0000" stroke-width="1"/>
</g>
<text x="1490" y="415.7" font-size="27.8" fill="#ff0000" textLength="93.5" lengthAdjust="spacingAndGlyphs">106.236</text>
<text x="1379.4" y="346.4" font-size="32.5" fill="#0a2a0a" letter-spacing="0.3" style="font-family:'Liberation Sans','Noto Sans CJK SC',sans-serif;">多空转折点</text>
<text x="1378.2" y="345.2" font-size="32.5" fill="#00ff00" letter-spacing="0.3" style="font-family:'Liberation Sans','Noto Sans CJK SC',sans-serif;">多空转折点</text>
<path d="M-1.6,39.5 L5,39.5 L1.7,34.8 Z" fill="#000"/>
<text class="t" transform="translate(10.5,39.6) scale(0.96,1)">USDJPY-,H4&#160; 105.918 105.961 105.913 105.959</text>
<g shape-rendering="crispEdges">
<rect x="0" y="46" width="219" height="68" fill="#fff"/>
<rect x="0" y="48" width="50" height="25" fill="url(#gb)"/>
<rect x="165" y="48" width="52" height="25" fill="url(#gb)"/>
<rect x="0" y="72" width="107" height="40" fill="url(#gb2)"/>
<rect x="109" y="72" width="108" height="40" fill="url(#gb2)"/>
<rect x="2" y="71" width="44" height="1" fill="#7a7af0"/>
<rect x="169" y="71" width="44" height="1" fill="#7a7af0"/>
<rect x="52.5" y="48.5" width="110" height="21" fill="#fff" stroke="#acacac"/>
<rect x="53" y="49" width="20" height="20" fill="#e6e6e6"/><rect x="73" y="49" width="1" height="20" fill="#acacac"/>
<rect x="142" y="49" width="20" height="20" fill="#e6e6e6"/><rect x="141" y="49" width="1" height="20" fill="#acacac"/>
</g>
<path d="M60,57 L66,57 L63,60.5 Z" fill="#000"/><path d="M149,60.5 L155,60.5 L152,57 Z" fill="#000"/>
<text x="10.5" y="63.9" font-size="12.4" fill="#fff" textLength="25.5" lengthAdjust="spacingAndGlyphs">SELL</text>
<text x="178.5" y="63.9" font-size="12.4" fill="#fff" textLength="23.2" lengthAdjust="spacingAndGlyphs">BUY</text>
<text x="115.3" y="63.2" font-size="11.8" fill="#222" textLength="22.4" lengthAdjust="spacingAndGlyphs">1.00</text>
<text x="21.7" y="102.6" font-size="11.5" font-weight="bold" fill="#fff" textLength="20.5" lengthAdjust="spacingAndGlyphs">105</text>
<text x="45" y="103.3" font-size="33" fill="#fff" textLength="34.6" lengthAdjust="spacingAndGlyphs">95</text>
<text x="85.6" y="86.8" font-size="12.6" font-weight="bold" fill="#fff">9</text>
<text x="131.8" y="102.6" font-size="11.5" font-weight="bold" fill="#fff" textLength="20.5" lengthAdjust="spacingAndGlyphs">105</text>
<text x="156.4" y="103.3" font-size="33" fill="#fff" textLength="35" lengthAdjust="spacingAndGlyphs">98</text>
<text x="196.3" y="86.8" font-size="12.6" font-weight="bold" fill="#fff">0</text>
<g shape-rendering="crispEdges">
<rect x="3" y="599" width="1" height="30" fill="#c0c0c0"/>
<rect x="11" y="598" width="1" height="31" fill="#c0c0c0"/>
<rect x="19" y="596" width="1" height="33" fill="#c0c0c0"/>
<rect x="27" y="596" width="1" height="33" fill="#c0c0c0"/>
<rect x="35" y="595" width="1" height="34" fill="#c0c0c0"/>
<rect x="43" y="595" width="1" height="34" fill="#c0c0c0"/>
<rect x="51" y="595" width="1" height="34" fill="#c0c0c0"/>
<rect x="59" y="595" width="1" height="34" fill="#c0c0c0"/>
<rect x="67" y="595" width="1" height="34" fill="#c0c0c0"/>
<rect x="75" y="595" width="1" height="34" fill="#c0c0c0"/>
<rect x="83" y="595" width="1" height="34" fill="#c0c0c0"/>
<rect x="91" y="596" width="1" height="33" fill="#c0c0c0"/>
<rect x="99" y="599" width="1" height="30" fill="#c0c0c0"/>
<rect x="107" y="602" width="1" height="27" fill="#c0c0c0"/>
<rect x="115" y="606" width="1" height="23" fill="#c0c0c0"/>
<rect x="123" y="607" width="1" height="22" fill="#c0c0c0"/>
<rect x="131" y="610" width="1" height="19" fill="#c0c0c0"/>
<rect x="139" y="612" width="1" height="17" fill="#c0c0c0"/>
<rect x="147" y="614" width="1" height="15" fill="#c0c0c0"/>
<rect x="155" y="616" width="1" height="13" fill="#c0c0c0"/>
<rect x="163" y="618" width="1" height="11" fill="#c0c0c0"/>
<rect x="171" y="619" width="1" height="10" fill="#c0c0c0"/>
<rect x="179" y="616" width="1" height="13" fill="#c0c0c0"/>
<rect x="187" y="614" width="1" height="15" fill="#c0c0c0"/>
<rect x="195" y="606" width="1" height="23" fill="#c0c0c0"/>
<rect x="203" y="603" width="1" height="26" fill="#c0c0c0"/>
<rect x="211" y="603" width="1" height="26" fill="#c0c0c0"/>
<rect x="219" y="613" width="1" height="16" fill="#c0c0c0"/>
<rect x="227" y="628" width="1" height="8" fill="#c0c0c0"/>
<rect x="235" y="628" width="1" height="23" fill="#c0c0c0"/>
<rect x="243" y="628" width="1" height="41" fill="#c0c0c0"/>
<rect x="251" y="628" width="1" height="57" fill="#c0c0c0"/>
<rect x="259" y="628" width="1" height="70" fill="#c0c0c0"/>
<rect x="267" y="628" width="1" height="82" fill="#c0c0c0"/>
<rect x="275" y="628" width="1" height="91" fill="#c0c0c0"/>
<rect x="283" y="628" width="1" height="98" fill="#c0c0c0"/>
<rect x="291" y="628" width="1" height="111" fill="#c0c0c0"/>
<rect x="299" y="628" width="1" height="120" fill="#c0c0c0"/>
<rect x="307" y="628" width="1" height="123" fill="#c0c0c0"/>
<rect x="315" y="628" width="1" height="125" fill="#c0c0c0"/>
<rect x="323" y="628" width="1" height="125" fill="#c0c0c0"/>
<rect x="331" y="628" width="1" height="130" fill="#c0c0c0"/>
<rect x="339" y="628" width="1" height="120" fill="#c0c0c0"/>
<rect x="347" y="628" width="1" height="111" fill="#c0c0c0"/>
<rect x="355" y="628" width="1" height="103" fill="#c0c0c0"/>
<rect x="363" y="628" width="1" height="95" fill="#c0c0c0"/>
<rect x="371" y="628" width="1" height="86" fill="#c0c0c0"/>
<rect x="379" y="628" width="1" height="83" fill="#c0c0c0"/>
<rect x="387" y="628" width="1" height="83" fill="#c0c0c0"/>
<rect x="395" y="628" width="1" height="77" fill="#c0c0c0"/>
<rect x="403" y="628" width="1" height="79" fill="#c0c0c0"/>
<rect x="411" y="628" width="1" height="83" fill="#c0c0c0"/>
<rect x="419" y="628" width="1" height="76" fill="#c0c0c0"/>
<rect x="427" y="628" width="1" height="72" fill="#c0c0c0"/>
<rect x="435" y="628" width="1" height="66" fill="#c0c0c0"/>
<rect x="443" y="628" width="1" height="62" fill="#c0c0c0"/>
<rect x="451" y="628" width="1" height="61" fill="#c0c0c0"/>
<rect x="459" y="628" width="1" height="58" fill="#c0c0c0"/>
<rect x="467" y="628" width="1" height="56" fill="#c0c0c0"/>
<rect x="475" y="628" width="1" height="55" fill="#c0c0c0"/>
<rect x="483" y="628" width="1" height="52" fill="#c0c0c0"/>
<rect x="491" y="628" width="1" height="50" fill="#c0c0c0"/>
<rect x="499" y="628" width="1" height="50" fill="#c0c0c0"/>
<rect x="507" y="628" width="1" height="56" fill="#c0c0c0"/>
<rect x="515" y="628" width="1" height="60" fill="#c0c0c0"/>
<rect x="523" y="628" width="1" height="61" fill="#c0c0c0"/>
<rect x="531" y="628" width="1" height="59" fill="#c0c0c0"/>
<rect x="539" y="628" width="1" height="60" fill="#c0c0c0"/>
<rect x="547" y="628" width="1" height="65" fill="#c0c0c0"/>
<rect x="555" y="628" width="1" height="62" fill="#c0c0c0"/>
<rect x="563" y="628" width="1" height="62" fill="#c0c0c0"/>
<rect x="571" y="628" width="1" height="60" fill="#c0c0c0"/>
<rect x="579" y="628" width="1" height="56" fill="#c0c0c0"/>
<rect x="587" y="628" width="1" height="57" fill="#c0c0c0"/>
<rect x="595" y="628" width="1" height="55" fill="#c0c0c0"/>
<rect x="603" y="628" width="1" height="35" fill="#c0c0c0"/>
<rect x="611" y="628" width="1" height="15" fill="#c0c0c0"/>
<rect x="619" y="628" width="1" height="2" fill="#c0c0c0"/>
<rect x="627" y="623" width="1" height="6" fill="#c0c0c0"/>
<rect x="635" y="617" width="1" height="12" fill="#c0c0c0"/>
<rect x="643" y="620" width="1" height="9" fill="#c0c0c0"/>
<rect x="651" y="624" width="1" height="5" fill="#c0c0c0"/>
<rect x="659" y="624" width="1" height="5" fill="#c0c0c0"/>
<rect x="667" y="626" width="1" height="3" fill="#c0c0c0"/>
<rect x="675" y="625" width="1" height="4" fill="#c0c0c0"/>
<rect x="683" y="623" width="1" height="6" fill="#c0c0c0"/>
<rect x="691" y="622" width="1" height="7" fill="#c0c0c0"/>
<rect x="699" y="621" width="1" height="8" fill="#c0c0c0"/>
<rect x="707" y="621" width="1" height="8" fill="#c0c0c0"/>
<rect x="715" y="621" width="1" height="8" fill="#c0c0c0"/>
<rect x="723" y="620" width="1" height="9" fill="#c0c0c0"/>
<rect x="731" y="619" width="1" height="10" fill="#c0c0c0"/>
<rect x="739" y="616" width="1" height="13" fill="#c0c0c0"/>
<rect x="747" y="614" width="1" height="15" fill="#c0c0c0"/>
<rect x="755" y="613" width="1" height="16" fill="#c0c0c0"/>
<rect x="763" y="611" width="1" height="18" fill="#c0c0c0"/>
<rect x="771" y="609" width="1" height="20" fill="#c0c0c0"/>
<rect x="779" y="608" width="1" height="21" fill="#c0c0c0"/>
<rect x="787" y="605" width="1" height="24" fill="#c0c0c0"/>
<rect x="795" y="604" width="1" height="25" fill="#c0c0c0"/>
<rect x="803" y="601" width="1" height="28" fill="#c0c0c0"/>
<rect x="811" y="601" width="1" height="28" fill="#c0c0c0"/>
<rect x="819" y="600" width="1" height="29" fill="#c0c0c0"/>
<rect x="827" y="602" width="1" height="27" fill="#c0c0c0"/>
<rect x="835" y="605" width="1" height="24" fill="#c0c0c0"/>
<rect x="843" y="608" width="1" height="21" fill="#c0c0c0"/>
<rect x="851" y="613" width="1" height="16" fill="#c0c0c0"/>
<rect x="859" y="616" width="1" height="13" fill="#c0c0c0"/>
<rect x="867" y="615" width="1" height="14" fill="#c0c0c0"/>
<rect x="875" y="614" width="1" height="15" fill="#c0c0c0"/>
<rect x="883" y="614" width="1" height="15" fill="#c0c0c0"/>
<rect x="891" y="613" width="1" height="16" fill="#c0c0c0"/>
<rect x="899" y="612" width="1" height="17" fill="#c0c0c0"/>
<rect x="907" y="612" width="1" height="17" fill="#c0c0c0"/>
<rect x="915" y="613" width="1" height="16" fill="#c0c0c0"/>
<rect x="923" y="615" width="1" height="14" fill="#c0c0c0"/>
<rect x="931" y="614" width="1" height="15" fill="#c0c0c0"/>
<rect x="939" y="616" width="1" height="13" fill="#c0c0c0"/>
<rect x="947" y="618" width="1" height="11" fill="#c0c0c0"/>
<rect x="955" y="619" width="1" height="10" fill="#c0c0c0"/>
<rect x="963" y="618" width="1" height="11" fill="#c0c0c0"/>
<rect x="971" y="617" width="1" height="12" fill="#c0c0c0"/>
<rect x="979" y="615" width="1" height="14" fill="#c0c0c0"/>
<rect x="987" y="628" width="1" height="6" fill="#c0c0c0"/>
<rect x="995" y="628" width="1" height="22" fill="#c0c0c0"/>
<rect x="1003" y="628" width="1" height="40" fill="#c0c0c0"/>
<rect x="1011" y="628" width="1" height="45" fill="#c0c0c0"/>
<rect x="1019" y="628" width="1" height="44" fill="#c0c0c0"/>
<rect x="1027" y="628" width="1" height="41" fill="#c0c0c0"/>
<rect x="1035" y="628" width="1" height="36" fill="#c0c0c0"/>
<rect x="1043" y="628" width="1" height="29" fill="#c0c0c0"/>
<rect x="1051" y="628" width="1" height="27" fill="#c0c0c0"/>
<rect x="1059" y="628" width="1" height="30" fill="#c0c0c0"/>
<rect x="1067" y="628" width="1" height="30" fill="#c0c0c0"/>
<rect x="1075" y="628" width="1" height="29" fill="#c0c0c0"/>
<rect x="1083" y="628" width="1" height="28" fill="#c0c0c0"/>
<rect x="1091" y="628" width="1" height="27" fill="#c0c0c0"/>
<rect x="1099" y="628" width="1" height="27" fill="#c0c0c0"/>
<rect x="1107" y="628" width="1" height="25" fill="#c0c0c0"/>
<rect x="1115" y="628" width="1" height="23" fill="#c0c0c0"/>
<rect x="1123" y="628" width="1" height="23" fill="#c0c0c0"/>
<rect x="1131" y="628" width="1" height="21" fill="#c0c0c0"/>
<rect x="1139" y="628" width="1" height="14" fill="#c0c0c0"/>
<rect x="1147" y="628" width="1" height="10" fill="#c0c0c0"/>
<rect x="1155" y="628" width="1" height="9" fill="#c0c0c0"/>
<rect x="1163" y="628" width="1" height="5" fill="#c0c0c0"/>
<rect x="1171" y="628" width="1" height="2" fill="#c0c0c0"/>
<rect x="1179" y="621" width="1" height="8" fill="#c0c0c0"/>
<rect x="1187" y="615" width="1" height="14" fill="#c0c0c0"/>
<rect x="1195" y="611" width="1" height="18" fill="#c0c0c0"/>
<rect x="1203" y="608" width="1" height="21" fill="#c0c0c0"/>
<rect x="1211" y="605" width="1" height="24" fill="#c0c0c0"/>
<rect x="1219" y="606" width="1" height="23" fill="#c0c0c0"/>
<rect x="1227" y="607" width="1" height="22" fill="#c0c0c0"/>
<rect x="1235" y="609" width="1" height="20" fill="#c0c0c0"/>
<rect x="1243" y="613" width="1" height="16" fill="#c0c0c0"/>
<rect x="1251" y="616" width="1" height="13" fill="#c0c0c0"/>
<rect x="1259" y="616" width="1" height="13" fill="#c0c0c0"/>
<rect x="1267" y="616" width="1" height="13" fill="#c0c0c0"/>
<rect x="1275" y="618" width="1" height="11" fill="#c0c0c0"/>
<rect x="1283" y="619" width="1" height="10" fill="#c0c0c0"/>
<rect x="1291" y="621" width="1" height="8" fill="#c0c0c0"/>
<rect x="1299" y="620" width="1" height="9" fill="#c0c0c0"/>
<rect x="1307" y="625" width="1" height="4" fill="#c0c0c0"/>
<rect x="1315" y="626" width="1" height="3" fill="#c0c0c0"/>
<rect x="1323" y="628" width="1" height="1" fill="#c0c0c0"/>
<rect x="1331" y="628" width="1" height="3" fill="#c0c0c0"/>
<rect x="1339" y="628" width="1" height="6" fill="#c0c0c0"/>
<rect x="1347" y="628" width="1" height="8" fill="#c0c0c0"/>
<polyline points="0.5,612 13.1,607.7 25.5,603.7 38.2,600.5 50.5,596.9 65.5,596.1 83.5,595.5 101.1,597.5 126.3,599.9 141.5,603.2 156.5,606.2 171.5,612 186.5,613.7 201.5,613.2 214.5,612 226.5,614.5 239.5,620.3 252,629.5 264.5,644.5 277.2,666 289.5,688.5 302.5,708.5 314.5,723.9 327.5,736 340,743.5 355.1,746.5 370.2,742.8 382.5,734.5 395.5,727.5 407.9,718.9 420.5,712.5 438.2,705.5 453.3,701.8 470.9,695.7 486,689.2 501.1,685.7 516.2,684.2 533.8,684.2 548.9,686.2 564,688.7 576.5,689.2 591.5,688.7 601.5,685.5 611.5,679.9 621.5,670.5 634.5,658.5 647,646.5 659.5,635.9 667.1,629.5 677.2,625.3 689.5,622.8 714.9,622.8 732.5,622 752.5,618.8 772.5,615.2 790.5,611.5 805.5,607.7 813.1,606.9 828.2,603.7 853.3,603.9 865.9,606.9 883.5,610 901.1,612.5 921.2,613.2 941.3,612.7 961.5,615 981.5,615.7 994.2,620.8 1006.5,630.8 1021.5,642.1 1036.9,651 1047,658 1057,661.8 1067.1,664 1079.5,661 1097.3,657.2 1114.9,655 1130,654.2 1142.5,651 1157.5,647.7 1172.5,642.1 1187.5,635.1 1202.9,626.5 1214.5,620.5 1228.5,614.1 1242.5,610.1 1262.5,609.8 1279.3,612.1 1293.5,615.5 1307.5,617.2 1318.5,620 1330,621.9 1338.5,624.8 1345.5,625.5 1348,627.5" fill="none" stroke="#ff0000" stroke-width="1" stroke-dasharray="3,3"/>
<rect x="1624" y="585" width="1" height="1" fill="#000"/>
<rect x="1624" y="628" width="2" height="1" fill="#000"/>
<rect x="1624" y="765" width="1" height="1" fill="#000"/>
</g>
<text class="t" transform="translate(0,596.2) scale(0.96,1)">MACD(12,26,9) -0.0385 0.0093</text>
<text class="t" transform="translate(1627.5,594) scale(0.96,1)">0.2328</text>
<text class="t" transform="translate(1627.5,632) scale(0.96,1)">0.00</text>
<text class="t" transform="translate(1627,763.2) scale(0.96,1)">-0.7342</text>
<g shape-rendering="crispEdges">
<line x1="0" y1="801.5" x2="1623" y2="801.5" stroke="#c0c0c0" stroke-width="1" stroke-dasharray="3,3"/>
<line x1="0" y1="848.5" x2="1623" y2="848.5" stroke="#c0c0c0" stroke-width="1" stroke-dasharray="3,3"/>
<line x1="0" y1="904.5" x2="1623" y2="904.5" stroke="#c0c0c0" stroke-width="1" stroke-dasharray="3,3"/>
<polyline points="0.5,823.5 3.5,823.6 11.5,822.9 19.5,821.6 27.5,820.3 35.5,820.3 43.5,827.4 51.5,834.9 59.5,829.1 67.5,829.9 75.5,819.1 83.5,824.9 91.5,822.1 99.5,840 107.5,840 115.5,848.8 123.5,840 131.5,844.7 139.5,846.8 147.5,847 155.5,847 163.5,846.8 171.5,844.2 179.5,830.4 187.5,828.6 195.5,810.8 203.5,820.9 211.5,836.7 219.5,864.4 227.5,887 235.5,880 243.5,887 251.5,888.8 259.5,890 267.5,892 275.5,893 283.5,893 291.5,901.1 299.5,901.1 307.5,894 315.5,893.8 323.5,889 331.5,895.8 339.5,864.9 347.5,866.9 355.5,862.1 363.5,864.1 371.5,861.1 379.5,865.6 387.5,870.9 395.5,864.1 403.5,871.5 411.5,875.7 419.5,858.6 427.5,861.1 435.5,857.8 443.5,860.8 451.5,862.9 459.5,860.8 467.5,861.8 475.5,864.9 483.5,860.8 491.5,862.6 499.5,866.6 507.5,876.9 515.5,866.6 523.5,870.9 531.5,868.9 539.5,866.6 547.5,874.9 555.5,865.9 563.5,868.1 571.5,864.9 579.5,861.8 587.5,869.4 595.5,867.9 603.5,830.4 611.5,828.6 619.5,831.9 627.5,838.7 635.5,836.7 643.5,851.8 651.5,854 659.5,848.8 667.5,851 675.5,850.8 683.5,841.7 691.5,845.7 699.5,846 707.5,848.3 715.5,847 723.5,842.7 731.5,844.7 739.5,840.7 747.5,838.7 755.5,841 763.5,835.9 771.5,840 779.5,838 787.5,830.7 795.5,835.9 803.5,831.7 811.5,835.9 819.5,834.9 827.5,840.7 835.5,846.8 843.5,846.8 851.5,854.3 859.5,851 867.5,840.7 875.5,838 883.5,841 891.5,838.7 899.5,834.7 907.5,836.7 915.5,845.7 923.5,846.8 931.5,838.7 939.5,846.8 947.5,850 955.5,844.2 963.5,840 971.5,835.9 979.5,831.7 987.5,884 995.5,884 1003.5,890.8 1011.5,868.1 1019.5,858.1 1027.5,854.3 1035.5,851 1043.5,847.8 1051.5,853.8 1059.5,859.8 1067.5,858.1 1075.5,857.8 1083.5,856.1 1091.5,858.1 1099.5,857.8 1107.5,853.8 1115.5,857.1 1123.5,858.1 1131.5,851 1139.5,839.7 1147.5,843.7 1155.5,850.8 1163.5,843.7 1171.5,838.7 1179.5,830.7 1187.5,830.7 1195.5,833.9 1203.5,832.5 1211.5,831.5 1219.5,841.9 1227.5,843 1235.5,845 1243.5,850.9 1251.5,849.7 1259.5,844.7 1267.5,839.6 1275.5,848.6 1283.5,848.9 1291.5,848.6 1299.5,843 1307.5,859.9 1315.5,853.1 1323.5,863 1331.5,854 1339.5,857.9 1347.5,857.9" fill="none" stroke="#1e90ff" stroke-width="1"/>
<rect x="1624" y="770" width="1" height="1" fill="#000"/>
<rect x="1624" y="801" width="2" height="1" fill="#000"/>
<rect x="1624" y="848" width="2" height="1" fill="#000"/>
<rect x="1624" y="904" width="2" height="1" fill="#000"/>
<rect x="1624" y="927" width="1" height="1" fill="#000"/>
<rect x="-5" y="929" width="1" height="3" fill="#000"/>
<rect x="59" y="929" width="1" height="3" fill="#000"/>
<rect x="123" y="929" width="1" height="3" fill="#000"/>
<rect x="187" y="929" width="1" height="3" fill="#000"/>
<rect x="251" y="929" width="1" height="3" fill="#000"/>
<rect x="315" y="929" width="1" height="3" fill="#000"/>
<rect x="379" y="929" width="1" height="3" fill="#000"/>
<rect x="443" y="929" width="1" height="3" fill="#000"/>
<rect x="507" y="929" width="1" height="3" fill="#000"/>
<rect x="571" y="929" width="1" height="3" fill="#000"/>
<rect x="635" y="929" width="1" height="3" fill="#000"/>
<rect x="699" y="929" width="1" height="3" fill="#000"/>
<rect x="763" y="929" width="1" height="3" fill="#000"/>
<rect x="827" y="929" width="1" height="3" fill="#000"/>
<rect x="891" y="929" width="1" height="3" fill="#000"/>
<rect x="955" y="929" width="1" height="3" fill="#000"/>
<rect x="1019" y="929" width="1" height="3" fill="#000"/>
<rect x="1083" y="929" width="1" height="3" fill="#000"/>
<rect x="1147" y="929" width="1" height="3" fill="#000"/>
<rect x="1211" y="929" width="1" height="3" fill="#000"/>
<rect x="1275" y="929" width="1" height="3" fill="#000"/>
<rect x="1339" y="929" width="1" height="3" fill="#000"/>
</g>
<text class="t" transform="translate(-0.5,781.2) scale(0.96,1)">RSI(14) 44.8958</text>
<text class="t" transform="translate(1627.5,779) scale(0.96,1)">100</text>
<text class="t" transform="translate(1627.5,805.2) scale(0.96,1)">80</text>
<text class="t" transform="translate(1627.5,852.2) scale(0.96,1)">50</text>
<text class="t" transform="translate(1627.5,908.2) scale(0.96,1)">15</text>
<text class="t" transform="translate(1627.5,925) scale(0.96,1)">0</text>
<text class="t" transform="translate(-6.2,941) scale(0.96,1)">25 Jul 2019</text>
<text class="t" transform="translate(57.8,941) scale(0.96,1)">29 Jul 04:00</text>
<text class="t" transform="translate(121.8,941) scale(0.96,1)">30 Jul 12:00</text>
<text class="t" transform="translate(185.8,941) scale(0.96,1)">31 Jul 20:00</text>
<text class="t" transform="translate(249.8,941) scale(0.96,1)">2 Aug 04:00</text>
<text class="t" transform="translate(313.8,941) scale(0.96,1)">5 Aug 12:00</text>
<text class="t" transform="translate(377.8,941) scale(0.96,1)">6 Aug 20:00</text>
<text class="t" transform="translate(441.8,941) scale(0.96,1)">8 Aug 04:00</text>
<text class="t" transform="translate(505.8,941) scale(0.96,1)">9 Aug 12:00</text>
<text class="t" transform="translate(569.8,941) scale(0.96,1)">12 Aug 20:00</text>
<text class="t" transform="translate(633.8,941) scale(0.96,1)">14 Aug 04:00</text>
<text class="t" transform="translate(697.8,941) scale(0.96,1)">15 Aug 12:00</text>
<text class="t" transform="translate(761.8,941) scale(0.96,1)">18 Aug 23:00</text>
<text class="t" transform="translate(825.8,941) scale(0.96,1)">20 Aug 04:00</text>
<text class="t" transform="translate(889.8,941) scale(0.96,1)">21 Aug 12:00</text>
<text class="t" transform="translate(953.8,941) scale(0.96,1)">22 Aug 20:00</text>
<text class="t" transform="translate(1017.8,941) scale(0.96,1)">26 Aug 04:00</text>
<text class="t" transform="translate(1081.8,941) scale(0.96,1)">27 Aug 12:00</text>
<text class="t" transform="translate(1145.8,941) scale(0.96,1)">28 Aug 20:00</text>
<text class="t" transform="translate(1209.8,941) scale(0.96,1)">30 Aug 04:00</text>
<text class="t" transform="translate(1273.8,941) scale(0.96,1)">2 Sep 12:00</text>
<text class="t" transform="translate(1337.8,941) scale(0.96,1)">3 Sep 20:00</text>
<defs><linearGradient id="gold" x1="0" y1="0" x2="1" y2="1"><stop offset="0" stop-color="#ffe680"/><stop offset="1" stop-color="#c8860a"/></linearGradient><linearGradient id="grn" x1="0" y1="0" x2="0" y2="1"><stop offset="0" stop-color="#5ae05a"/><stop offset="1" stop-color="#12a012"/></linearGradient><radialGradient id="lens" cx="0.4" cy="0.35" r="0.7"><stop offset="0" stop-color="#ffffff"/><stop offset="1" stop-color="#a8d8ff"/></radialGradient><linearGradient id="clk" x1="0" y1="0" x2="0" y2="1"><stop offset="0" stop-color="#3a8af8"/><stop offset="1" stop-color="#0a3ab0"/></linearGradient><linearGradient id="bub" x1="0" y1="0" x2="0" y2="1"><stop offset="0" stop-color="#ffffff"/><stop offset="1" stop-color="#d4d4dc"/></linearGradient></defs>
<path d="M-2,3.5 L3.5,3.5 L6.5,6.5 L6.5,14 L-2,14 Z" fill="#fff" stroke="#8c8c8c" stroke-width="1"/>
<path d="M3.5,3.5 L3.5,6.5 L6.5,6.5" fill="none" stroke="#8c8c8c" stroke-width="1"/>
<rect x="0" y="9" width="4" height="1" fill="#a8a8a8" shape-rendering="crispEdges"/>
<path d="M2,11 H6 V14.5 H10 V18.5 H6 V21.5 H2 V18.5 H-2 V14.5 H2 Z" fill="url(#grn)" stroke="#0a7a0a" stroke-width="1"/>
<text x="13" y="15" font-size="12" fill="#000" stroke="#000" stroke-width="0.19" style="font-family:'Liberation Sans','Noto Sans CJK SC',sans-serif;">新订单</text>
<path d="M61.2,12.4 L66.6,5.2 L77.3,12.3 L71.4,19.9 L62.3,15.6 C60.5,14.8 60.3,13.6 61.2,12.4 Z" fill="#b07a0c"/>
<path d="M62.9,11.3 L67,5.9 L76.1,12.2 L71,18 Z" fill="url(#gold)"/>
<path d="M63.6,13.4 L70.8,17.2" stroke="#f6dc88" stroke-width="0.8"/>
<rect x="91.5" y="4.5" width="11" height="10" fill="#2a8af0" stroke="#1a6ad0"/>
<rect x="95" y="7" width="6.5" height="6" fill="#d8ecff"/>
<path d="M92,19 C88.5,19 88.5,14.5 92,14.5 C92.5,12 96.5,11.5 97.5,13.8 C99,12.5 102,13 102,15 C105.5,15 105.5,19 102,19 Z" fill="#eef4ff" stroke="#8a9ec8" stroke-width="1"/>
<circle cx="125" cy="12" r="7.5" fill="none" stroke="#a8c0e8" stroke-width="1.4"/>
<circle cx="125" cy="12" r="4.8" fill="none" stroke="#6a98e0" stroke-width="1.4"/>
<path d="M125,12 L132,12 A7.5,7.5 0 0 1 125,19.5 Z" fill="#6cc46c" opacity="0.85"/>
<circle cx="125" cy="12" r="1.8" fill="#2a5ad8"/>
<rect x="124.3" y="12" width="1.6" height="7.5" fill="#1a9a1a"/>
<path d="M146,10 L158.5,10 L153.5,19.5 L150,19.5 Z" fill="#f0c838" stroke="#c89818" stroke-width="0.8"/>
<ellipse cx="152" cy="9" rx="8" ry="2.8" fill="#5a9ae0" stroke="#3a78c0" stroke-width="0.8"/>
<ellipse cx="152" cy="6.8" rx="4.2" ry="3" fill="#6aa8e8" stroke="#3a78c0" stroke-width="0.8"/>
<circle cx="156.3" cy="15.5" r="4.2" fill="#e02010" stroke="#a81008" stroke-width="0.8"/>
<rect x="154.6" y="13.8" width="3.4" height="3.4" fill="#fff"/>
<text x="165.5" y="15" font-size="12" fill="#000" stroke="#000" stroke-width="0.19" letter-spacing="-0.2" style="font-family:'Liberation Sans','Noto Sans CJK SC',sans-serif;">自动交易</text>
<rect x="220" y="0" width="1" height="23" fill="#a0a0a0" shape-rendering="crispEdges"/><rect x="221" y="0" width="1" height="23" fill="#fff" shape-rendering="crispEdges"/>
<g shape-rendering="crispEdges" fill="#b4b4b4"><rect x="224" y="2" width="3" height="1"/><rect x="224" y="4" width="3" height="1"/><rect x="224" y="6" width="3" height="1"/><rect x="224" y="8" width="3" height="1"/><rect x="224" y="10" width="3" height="1"/><rect x="224" y="12" width="3" height="1"/><rect x="224" y="14" width="3" height="1"/><rect x="224" y="16" width="3" height="1"/><rect x="224" y="18" width="3" height="1"/><rect x="224" y="20" width="3" height="1"/></g>
<g fill="#555" shape-rendering="crispEdges"><rect x="238" y="7" width="1" height="13"/><rect x="237" y="8" width="3" height="1"/><rect x="236" y="18" width="14" height="1"/><rect x="248" y="17" width="1" height="3"/></g>
<g fill="#1a9a1a"><rect x="244" y="7" width="1.4" height="9"/><rect x="242" y="14" width="2" height="1.4"/><rect x="245" y="7" width="2.4" height="1.4"/></g>
<g shape-rendering="crispEdges"><rect x="258" y="0" width="25" height="22" fill="url(#sel)"/><rect x="258" y="0" width="25" height="1" fill="#a0a0a0"/><rect x="258" y="0" width="1" height="22" fill="#a0a0a0"/></g>
<g fill="#555" shape-rendering="crispEdges"><rect x="266" y="7" width="1" height="13"/><rect x="265" y="8" width="3" height="1"/><rect x="264" y="18" width="14" height="1"/><rect x="276" y="17" width="1" height="3"/></g>
<g shape-rendering="crispEdges"><rect x="272" y="4" width="1" height="13" fill="#0a7a0a"/><rect x="270" y="6" width="5" height="8" fill="#0a8a0a"/><rect x="271" y="7" width="3" height="6" fill="#40e040"/></g>
<g fill="#555" shape-rendering="crispEdges"><rect x="294" y="7" width="1" height="13"/><rect x="293" y="8" width="3" height="1"/><rect x="292" y="18" width="14" height="1"/><rect x="304" y="17" width="1" height="3"/></g>
<path d="M293,15 C296,13 297,9 299.5,9.5 C301.5,10 303,12.5 305.5,13" fill="none" stroke="#1a9a1a" stroke-width="1.4"/>
<rect x="315" y="1" width="1" height="21" fill="#a0a0a0" shape-rendering="crispEdges"/>
<path d="M334.5,14 L339.0,18.8" stroke="#d8b020" stroke-width="3.2" stroke-linecap="round"/>
<path d="M334.5,14 L339.0,18.8" stroke="#f8e070" stroke-width="1.2" stroke-linecap="round"/>
<circle cx="330.5" cy="10" r="5.4" fill="url(#lens)" stroke="#3a8ad8" stroke-width="1.6"/>
<rect x="327.5" y="9.2" width="6" height="1.8" fill="#3a78c0"/>
<rect x="329.6" y="7" width="1.8" height="6" fill="#3a78c0"/>
<path d="M362.5,14 L367.0,18.8" stroke="#d8b020" stroke-width="3.2" stroke-linecap="round"/>
<path d="M362.5,14 L367.0,18.8" stroke="#f8e070" stroke-width="1.2" stroke-linecap="round"/>
<circle cx="358.5" cy="10" r="5.4" fill="url(#lens)" stroke="#3a8ad8" stroke-width="1.6"/>
<rect x="355.5" y="9.2" width="6" height="1.8" fill="#3a78c0"/>
<g shape-rendering="crispEdges"><rect x="380" y="4" width="8" height="8" fill="#3a9a10"/><rect x="388" y="4" width="8" height="8" fill="#2a52d0"/><rect x="380" y="12" width="8" height="8" fill="#2a52d0"/><rect x="388" y="12" width="8" height="8" fill="#3a9a10"/><rect x="381" y="7" width="6" height="4" fill="#e8f8d8"/><rect x="389" y="7" width="6" height="4" fill="#dce8ff"/><rect x="381" y="15" width="6" height="4" fill="#dce8ff"/><rect x="389" y="15" width="6" height="4" fill="#e8f8d8"/><rect x="382" y="9" width="4" height="1" fill="#3a9a10"/><rect x="390" y="9" width="4" height="1" fill="#2a52d0"/><rect x="382" y="17" width="4" height="1" fill="#2a52d0"/><rect x="390" y="17" width="4" height="1" fill="#3a9a10"/></g>
<rect x="405" y="1" width="1" height="21" fill="#a0a0a0" shape-rendering="crispEdges"/>
<g shape-rendering="crispEdges"><rect x="410" y="0" width="25" height="22" fill="url(#sel)"/><rect x="410" y="0" width="25" height="1" fill="#a0a0a0"/><rect x="410" y="0" width="1" height="22" fill="#a0a0a0"/></g>
<g fill="#555" shape-rendering="crispEdges"><rect x="418" y="7" width="1" height="13"/><rect x="417" y="8" width="3" height="1"/><rect x="416" y="18" width="14" height="1"/><rect x="428" y="17" width="1" height="3"/></g>
<path d="M423,8 L427.5,11.5 L423,15 Z" fill="#40d040" stroke="#0a8a0a" stroke-width="0.8"/>
<g shape-rendering="crispEdges"><rect x="438" y="0" width="25" height="22" fill="url(#sel)"/><rect x="438" y="0" width="25" height="1" fill="#a0a0a0"/><rect x="438" y="0" width="1" height="22" fill="#a0a0a0"/></g>
<g fill="#555" shape-rendering="crispEdges"><rect x="446" y="7" width="1" height="13"/><rect x="445" y="8" width="3" height="1"/><rect x="444" y="18" width="14" height="1"/><rect x="456" y="17" width="1" height="3"/></g>
<rect x="452" y="6" width="1" height="11" fill="#1a6aa8" shape-rendering="crispEdges"/>
<path d="M453.5,11.5 L458,11.5 M453.5,11.5 L456,9.2 M453.5,11.5 L456,13.8" stroke="#d04010" stroke-width="1.2" fill="none"/>
<rect x="467" y="1" width="1" height="21" fill="#a0a0a0" shape-rendering="crispEdges"/>
<path d="M477.5,4.5 L485,4.5 L488.5,8 L488.5,17 L477.5,17 Z" fill="#fff" stroke="#909090" stroke-width="1"/>
<text x="479.5" y="14" font-size="9" font-style="italic" fill="#444" font-family="Liberation Serif,serif">f</text>
<path d="M485,10 H489 V13.5 H493 V17.5 H489 V21.5 H485 V17.5 H481 V13.5 H485 Z" fill="url(#grn)" stroke="#0a7a0a" stroke-width="1"/>
<path d="M499,11 L505,11 L502,14.5 Z" fill="#000"/>
<circle cx="523" cy="12" r="7.6" fill="url(#clk)"/>
<circle cx="523" cy="12" r="5.2" fill="#f4f8ff"/>
<path d="M523,8 L523,12.5 L526,12.5" stroke="#444" stroke-width="1.1" fill="none"/>
<path d="M538,11 L544,11 L541,14.5 Z" fill="#000"/>
<rect x="554.5" y="5.5" width="15" height="13" fill="#fff" stroke="#2a62c8" stroke-width="1"/>
<rect x="555" y="6" width="14" height="2" fill="#6a9ae8" shape-rendering="crispEdges"/>
<rect x="555" y="12" width="14" height="1" fill="#6a9ae8" shape-rendering="crispEdges"/>
<path d="M556.5,11 L559,10 L561,10.5 L563,9 L565,10 L568,8.8" stroke="#b02010" stroke-width="1.2" fill="none"/>
<path d="M556.5,16.5 L559,15.5 L561,16.5 L564,14.2 L566,16 L568,15.5" stroke="#1a9a1a" stroke-width="1.2" fill="none"/>
<path d="M577,11 L583,11 L580,14.5 Z" fill="#000"/>
<rect x="588" y="0" width="1" height="23" fill="#a0a0a0" shape-rendering="crispEdges"/><rect x="589" y="0" width="1" height="23" fill="#fff" shape-rendering="crispEdges"/>
<g shape-rendering="crispEdges" fill="#b4b4b4"><rect x="592" y="2" width="3" height="1"/><rect x="592" y="4" width="3" height="1"/><rect x="592" y="6" width="3" height="1"/><rect x="592" y="8" width="3" height="1"/><rect x="592" y="10" width="3" height="1"/><rect x="592" y="12" width="3" height="1"/><rect x="592" y="14" width="3" height="1"/><rect x="592" y="16" width="3" height="1"/><rect x="592" y="18" width="3" height="1"/><rect x="592" y="20" width="3" height="1"/></g>
<g shape-rendering="crispEdges"><rect x="598" y="0" width="25" height="22" fill="url(#sel)"/><rect x="598" y="0" width="25" height="1" fill="#a0a0a0"/><rect x="598" y="0" width="1" height="22" fill="#a0a0a0"/></g>
<path d="M606,4.5 L606,17.5 L609,14.8 L611.3,19.8 L613.2,18.9 L611,14 L615,14 Z" fill="#505050"/>
<g fill="#555" shape-rendering="crispEdges"><rect x="631" y="12" width="6" height="1"/><rect x="640" y="12" width="7" height="1"/><rect x="638" y="5" width="1" height="6"/><rect x="638" y="14" width="1" height="7"/></g>
<rect x="655" y="1" width="1" height="21" fill="#a0a0a0" shape-rendering="crispEdges"/>
<g fill="#555" shape-rendering="crispEdges"><rect x="672" y="6" width="1" height="13"/><rect x="695" y="12" width="12" height="1"/></g>
<path d="M723,19 L735,7" stroke="#555" stroke-width="1.2"/>
<path d="M749,14.5 L761,5.5 M751,19 L763.5,9.5" stroke="#555" stroke-width="1.2"/>
<path d="M752,12.5 L753.5,17 M755,10.2 L756.5,15 M758,8 L759.5,12.5 M761,5.5 L762,10.5" stroke="#555" stroke-width="1"/>
<text x="759.5" y="21.3" font-size="7" font-weight="bold" fill="#444">E</text>
<g stroke="#555" stroke-width="1" stroke-dasharray="1,1" shape-rendering="crispEdges"><line x1="778" y1="5.5" x2="791" y2="5.5"/><line x1="778" y1="8.5" x2="791" y2="8.5"/><line x1="778" y1="12.5" x2="791" y2="12.5"/><line x1="778" y1="16.5" x2="787" y2="16.5"/></g>
<text x="787.5" y="21.3" font-size="7" font-weight="bold" fill="#444">F</text>
<text x="808.3" y="17" font-size="13" fill="#4a4a4a" stroke="#4a4a4a" stroke-width="0.4">A</text>
<rect x="835.5" y="6.5" width="11" height="12" fill="none" stroke="#555" stroke-width="1" stroke-dasharray="1,1" shape-rendering="crispEdges"/>
<text x="837.2" y="17" font-size="11.5" fill="#4a4a4a" stroke="#4a4a4a" stroke-width="0.4">T</text>
<path d="M862.5,9.5 L866,6 L869.5,9.5 L866,11 Z" fill="#555"/>
<path d="M869.5,15.5 L873,19 L876.5,15.5 L873,14 Z" fill="#555"/>
<path d="M864.5,13 L866.5,15.5 L872,9.5" stroke="#555" stroke-width="1.4" fill="none"/>
<path d="M882.5,11 L888.5,11 L885.5,14.5 Z" fill="#000"/>
<rect x="894" y="0" width="1" height="23" fill="#a0a0a0" shape-rendering="crispEdges"/><rect x="895" y="0" width="1" height="23" fill="#fff" shape-rendering="crispEdges"/>
<g shape-rendering="crispEdges" fill="#b4b4b4"><rect x="898" y="2" width="3" height="1"/><rect x="898" y="4" width="3" height="1"/><rect x="898" y="6" width="3" height="1"/><rect x="898" y="8" width="3" height="1"/><rect x="898" y="10" width="3" height="1"/><rect x="898" y="12" width="3" height="1"/><rect x="898" y="14" width="3" height="1"/><rect x="898" y="16" width="3" height="1"/><rect x="898" y="18" width="3" height="1"/><rect x="898" y="20" width="3" height="1"/></g>
<g shape-rendering="crispEdges"><rect x="1044" y="0" width="25" height="22" fill="url(#sel)"/><rect x="1044" y="0" width="25" height="1" fill="#a0a0a0"/><rect x="1044" y="0" width="1" height="22" fill="#a0a0a0"/></g>
<text class="tf" x="909.6" y="16" textLength="12.6" lengthAdjust="spacingAndGlyphs">M1</text>
<text class="tf" x="937.5" y="16" textLength="13.5" lengthAdjust="spacingAndGlyphs">M5</text>
<text class="tf" x="963.5" y="16" textLength="18" lengthAdjust="spacingAndGlyphs">M15</text>
<text class="tf" x="991.4" y="16" textLength="18" lengthAdjust="spacingAndGlyphs">M30</text>
<text class="tf" x="1022.8" y="16" textLength="11.7" lengthAdjust="spacingAndGlyphs">H1</text>
<text class="tf" x="1049.7" y="16" textLength="12.6" lengthAdjust="spacingAndGlyphs">H4</text>
<text class="tf" x="1078.5" y="16" textLength="11.7" lengthAdjust="spacingAndGlyphs">D1</text>
<text class="tf" x="1106.3" y="16" textLength="13.5" lengthAdjust="spacingAndGlyphs">W1</text>
<text class="tf" x="1132.9" y="16" textLength="14.7" lengthAdjust="spacingAndGlyphs">MN</text>
<rect x="1155" y="0" width="1" height="23" fill="#a0a0a0" shape-rendering="crispEdges"/><rect x="1156" y="0" width="1" height="23" fill="#fff" shape-rendering="crispEdges"/>
<path d="M1624,11.5 L1618.3,17.3" stroke="#2a5ad8" stroke-width="2.6" stroke-linecap="round"/>
<circle cx="1626.6" cy="8.6" r="3.4" fill="#f4f8ff" stroke="#2a5ad8" stroke-width="1.7"/>
<path d="M1652,9 C1652,2.8 1665,2.8 1665,9 C1665,13 1661,13.8 1660,13.6 L1661.3,16.2 L1657.5,13.7 C1654,13.5 1652,11.5 1652,9 Z" fill="url(#bub)" stroke="#8a8a94" stroke-width="0.9"/>
<path d="M1644,13 C1644,8.6 1654.5,8.6 1654.5,13 C1654.5,16 1651,16.8 1649.5,16.6 L1646.3,19 L1647.3,16.3 C1645.2,15.8 1644,14.6 1644,13 Z" fill="url(#bub)" stroke="#8a8a94" stroke-width="0.9"/>
</svg></body></html>
